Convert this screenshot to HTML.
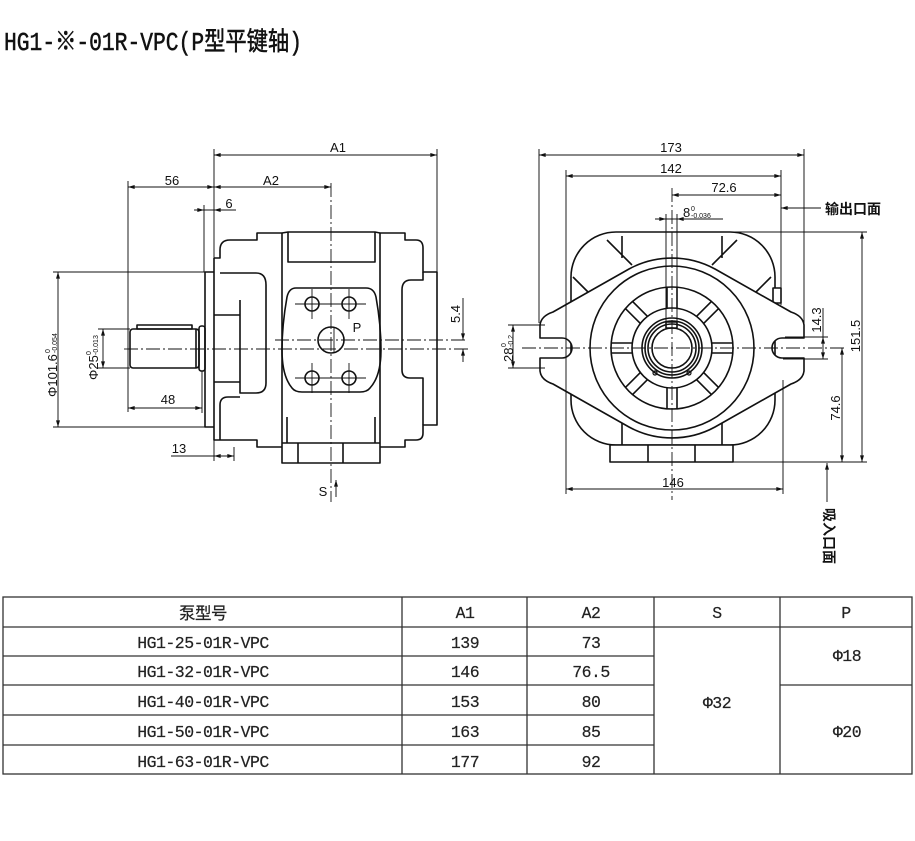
<!DOCTYPE html>
<html><head><meta charset="utf-8"><title>HG1 pump drawing</title>
<style>html,body{margin:0;padding:0;background:#fff;width:915px;height:841px;overflow:hidden}svg{display:block}</style>
</head><body>
<svg xmlns="http://www.w3.org/2000/svg" width="915" height="841" viewBox="0 0 915 841">
<defs>
<marker id="a" viewBox="0 0 10 6" refX="10" refY="3" markerWidth="8" markerHeight="4" orient="auto-start-reverse" markerUnits="userSpaceOnUse"><path d="M0 0L10 3L0 6z" fill="#111"/></marker>
</defs>
<rect width="915" height="841" fill="#fff"/>

<!-- Title -->
<text transform="translate(4,50) scale(1,1.17)" x="0" y="0" font-family="'Liberation Mono','Noto Sans CJK SC',monospace" font-size="22" fill="#111" stroke="#111" stroke-width="0.45" textLength="298" lengthAdjust="spacingAndGlyphs">HG1-※-01R-VPC(P型平键轴)</text>

<!-- ============ LEFT VIEW ============ -->
<g fill="none" stroke="#111" stroke-width="1.6" stroke-linejoin="round">
  <!-- shaft -->
  <rect x="130" y="329" width="69" height="39" rx="3"/>
  <rect x="137" y="325" width="55" height="4"/>
  <line x1="196" y1="329" x2="196" y2="368"/>
  <rect x="199" y="326" width="6" height="45" rx="2.5"/>
  <!-- spigot -->
  <path d="M214 272H205V427H214"/>
  <!-- front cover -->
  <path d="M214 258H220V250Q220 240 230 240H257V233H282"/>
  <path d="M214 258V440H257V447H282"/>
  <path d="M220 273H256Q266 273 266 285V383Q266 393 256 393H240V300"/>
  <path d="M214 315H240M214 382H240"/>
  <path d="M240 397H228Q220 397 220 405V440"/>
  <!-- middle body -->
  <path d="M282 233V463H380V233"/>
  <path d="M282 233L288 232H375L380 233"/>
  <path d="M288 232V262H375V232"/>
  <path d="M287 417V443M375 417V443M282 443H380M298 443V463M343 443V463"/>
  <!-- port pad -->
  <path d="M296 288H366Q374 288 376 297Q381 325 381 350Q381 376 370 388Q367 392 360 392H302Q295 392 292 388Q282 376 282 350Q282 325 287 297Q289 288 296 288Z"/>
  <circle cx="312" cy="304" r="7"/>
  <circle cx="349" cy="304" r="7"/>
  <circle cx="312" cy="378" r="7"/>
  <circle cx="349" cy="378" r="7"/>
  <circle cx="331" cy="340" r="13"/>
  <!-- rear section -->
  <path d="M380 233H405V240H416Q423 240 423 248V272H437V425H423V433Q423 440 416 440H405V447H380"/>
  <path d="M423 272V280H411Q402 280 402 290V370Q402 378 410 378H423V425"/>
</g>
<g fill="none" stroke="#111" stroke-width="0.9">
  <path d="M295 304H366M295 378H366M312 289V319M349 289V319M312 363V393M349 363V393M334 328V352"/>
</g>

<!-- ============ RIGHT VIEW ============ -->
<g stroke="#111" stroke-width="1.6" stroke-linejoin="round">
  <rect x="571" y="232" width="204" height="213" rx="45" fill="#fff"/>
  <path fill="none" d="M607 240L632 265M622 236V258M737 240L712 265M722 236V258M573 277L590 294M771 277L754 294M622 420V445M722 420V445"/>
  <rect x="610" y="445" width="123" height="17" fill="#fff"/>
  <path fill="none" d="M648 445V462M695 445V462"/>
  <rect x="773" y="288" width="8" height="15" fill="#fff"/>
  <path fill="#fff" d="M540 325Q541 316 553 312L629 269A90 90 0 0 1 715 269L791 312Q803 316 804 325V338H782A10 10 0 0 0 782 358H804V371Q803 380 791 384L715 427A90 90 0 0 1 629 427L553 384Q541 380 540 371V358H562A10 10 0 0 0 562 338H540Z"/>
  <g fill="none">
    <circle cx="672" cy="348" r="82"/>
    <circle cx="672" cy="348" r="61"/>
    <circle cx="672" cy="348" r="40"/>
    <circle cx="672" cy="348" r="30"/>
    <circle cx="672" cy="348" r="27"/>
    <circle cx="672" cy="348" r="24"/>
    <circle cx="672" cy="348" r="20"/>
    <path d="M712 353H733M712 343H733
             M696.7 379.8L711.6 394.7M703.8 372.7L718.7 387.6
             M667 388V409M677 388V409
             M640.2 372.7L625.3 387.6M647.3 379.8L632.4 394.7
             M632 343H611M632 353H611
             M647.3 316.2L632.4 301.3M640.2 323.3L625.3 308.4
             M667 308V287M677 308V287
             M703.8 323.3L718.7 308.4M696.7 316.2L711.6 301.3"/>
    <rect x="666" y="322" width="11" height="6"/>
  </g>
  <circle cx="655" cy="373" r="2" fill="none" stroke-width="1.2"/>
  <circle cx="689" cy="373" r="2" fill="none" stroke-width="1.2"/>
</g>

<!-- centerlines -->
<g stroke="#111" stroke-width="0.9" stroke-dasharray="14 3 2 3" fill="none">
  <line x1="124" y1="349" x2="470" y2="349"/>
  <line x1="275" y1="340" x2="466" y2="340"/>
  <line x1="331" y1="183" x2="331" y2="502"/>
  <line x1="522" y1="348" x2="846" y2="348"/>
  <line x1="672" y1="188" x2="672" y2="500"/>
</g>

<!-- dimension lines -->
<g stroke="#111" stroke-width="0.95" fill="none">
  <!-- left view -->
  <line x1="214" y1="155" x2="437" y2="155" marker-start="url(#a)" marker-end="url(#a)"/>
  <path d="M214 149V258M437 149V272"/>
  <line x1="128" y1="187" x2="214" y2="187" marker-start="url(#a)" marker-end="url(#a)"/>
  <line x1="214" y1="187" x2="331" y2="187" marker-start="url(#a)" marker-end="url(#a)"/>
  <path d="M128 181V412"/>
  <line x1="195" y1="210" x2="236" y2="210"/>
  <line x1="194" y1="210" x2="204" y2="210" marker-end="url(#a)"/>
  <line x1="226" y1="210" x2="214" y2="210" marker-end="url(#a)"/>
  <path d="M204 205V272"/>
  <line x1="58" y1="272" x2="58" y2="427" marker-start="url(#a)" marker-end="url(#a)"/>
  <path d="M53 272H205M53 427H205"/>
  <line x1="103" y1="329" x2="103" y2="368" marker-start="url(#a)" marker-end="url(#a)"/>
  <path d="M98 329H130M98 368H130"/>
  <line x1="128" y1="408" x2="202" y2="408" marker-start="url(#a)" marker-end="url(#a)"/>
  <path d="M202 371V413"/>
  <line x1="171" y1="456" x2="214" y2="456"/>
  <line x1="214" y1="456" x2="234" y2="456" marker-start="url(#a)" marker-end="url(#a)"/>
  <path d="M214 427V461M234 447V461"/>
  <line x1="463" y1="298" x2="463" y2="340" marker-end="url(#a)"/>
  <line x1="463" y1="362" x2="463" y2="349" marker-end="url(#a)"/>
  <line x1="336" y1="497" x2="336" y2="480" marker-end="url(#a)"/>
  <!-- right view -->
  <line x1="539" y1="155" x2="804" y2="155" marker-start="url(#a)" marker-end="url(#a)"/>
  <path d="M539 149V323M804 149V325"/>
  <line x1="566" y1="176" x2="781" y2="176" marker-start="url(#a)" marker-end="url(#a)"/>
  <path d="M566 170V494M781 170V305"/>
  <line x1="672" y1="195" x2="781" y2="195" marker-start="url(#a)" marker-end="url(#a)"/>
  <line x1="655" y1="219" x2="723" y2="219"/>
  <line x1="655" y1="219" x2="666" y2="219" marker-end="url(#a)"/>
  <line x1="688" y1="219" x2="677" y2="219" marker-end="url(#a)"/>
  <path d="M666 214V322M677 214V322"/>
  <line x1="821" y1="208" x2="781" y2="208" marker-end="url(#a)"/>
  <line x1="862" y1="232" x2="862" y2="462" marker-start="url(#a)" marker-end="url(#a)"/>
  <path d="M713 232H867M733 462H867"/>
  <line x1="842" y1="348" x2="842" y2="462" marker-start="url(#a)" marker-end="url(#a)"/>
  <line x1="823" y1="308" x2="823" y2="337"/>
  <line x1="823" y1="337" x2="823" y2="359" marker-start="url(#a)" marker-end="url(#a)"/>
  <path d="M785 337H828M783 359H828"/>
  <line x1="513" y1="325" x2="513" y2="368" marker-start="url(#a)" marker-end="url(#a)"/>
  <path d="M508 325H545M508 368H545"/>
  <line x1="566" y1="489" x2="783" y2="489" marker-start="url(#a)" marker-end="url(#a)"/>
  <path d="M783 380V494"/>
  <line x1="827" y1="502" x2="827" y2="463" marker-end="url(#a)"/>
</g>

<!-- dimension texts -->
<g font-family="'Liberation Sans',sans-serif" font-size="13" fill="#111" text-anchor="middle">
  <text x="338" y="152">A1</text>
  <text x="172" y="185">56</text>
  <text x="271" y="185">A2</text>
  <text x="229" y="208">6</text>
  <text x="168" y="404">48</text>
  <text x="179" y="453">13</text>
  <text x="323" y="496">S</text>
  <text x="357" y="332">P</text>
  <text x="671" y="152">173</text>
  <text x="671" y="173">142</text>
  <text x="724" y="192">72.6</text>
  <text x="673" y="487">146</text>
  <text transform="translate(460,314) rotate(-90)">5.4</text>
  <text transform="translate(860,336) rotate(-90)">151.5</text>
  <text transform="translate(840,408) rotate(-90)">74.6</text>
  <text transform="translate(821,320) rotate(-90)">14.3</text>
</g>
<g font-family="'Liberation Sans',sans-serif" fill="#111">
  <text transform="translate(57,397) rotate(-90)" font-size="13">Φ101.6</text>
  <text transform="translate(50,353) rotate(-90)" font-size="7">0</text>
  <text transform="translate(57,353) rotate(-90)" font-size="7">-0.054</text>
  <text transform="translate(98,380) rotate(-90)" font-size="13">Φ25</text>
  <text transform="translate(91,355) rotate(-90)" font-size="7">0</text>
  <text transform="translate(98,355) rotate(-90)" font-size="7">-0.013</text>
  <text transform="translate(513,362) rotate(-90)" font-size="13">28</text>
  <text transform="translate(506,347) rotate(-90)" font-size="7">0</text>
  <text transform="translate(513,347) rotate(-90)" font-size="7">-0.2</text>
  <text x="683" y="217" font-size="13">8</text>
  <text x="691" y="211" font-size="7">0</text>
  <text x="691" y="218" font-size="7">-0.036</text>
</g>
<g font-family="'Liberation Sans','Noto Sans CJK SC',sans-serif" font-size="14" font-weight="bold" fill="#111">
  <text x="825" y="214">输出口面</text>
  <text transform="translate(824,508) rotate(90)">吸入口面</text>
</g>

<!-- ============ TABLE ============ -->
<g stroke="#333" stroke-width="1.3" fill="none">
  <rect x="3" y="597" width="909" height="177"/>
  <path d="M3 627H912M3 656H654M3 685H654M780 685H912M3 715H654M3 745H654"/>
  <path d="M402 597V774M527 597V774M654 597V774M780 597V774"/>
</g>
<g font-family="'Liberation Mono','Noto Sans CJK SC',monospace" font-size="16.5" letter-spacing="-0.5" fill="#222" stroke="#222" stroke-width="0.2" text-anchor="middle">
  <text x="203" y="619">泵型号</text>
  <text x="465" y="618">A1</text>
  <text x="591" y="618">A2</text>
  <text x="717" y="618">S</text>
  <text x="846" y="618">P</text>
  <text x="203" y="648">HG1-25-01R-VPC</text>
  <text x="203" y="677">HG1-32-01R-VPC</text>
  <text x="203" y="707">HG1-40-01R-VPC</text>
  <text x="203" y="737">HG1-50-01R-VPC</text>
  <text x="203" y="767">HG1-63-01R-VPC</text>
  <text x="465" y="648">139</text>
  <text x="465" y="677">146</text>
  <text x="465" y="707">153</text>
  <text x="465" y="737">163</text>
  <text x="465" y="767">177</text>
  <text x="591" y="648">73</text>
  <text x="591" y="677">76.5</text>
  <text x="591" y="707">80</text>
  <text x="591" y="737">85</text>
  <text x="591" y="767">92</text>
  <text x="717" y="708">Φ32</text>
  <text x="847" y="661">Φ18</text>
  <text x="847" y="737">Φ20</text>
</g>
</svg>
</body></html>
